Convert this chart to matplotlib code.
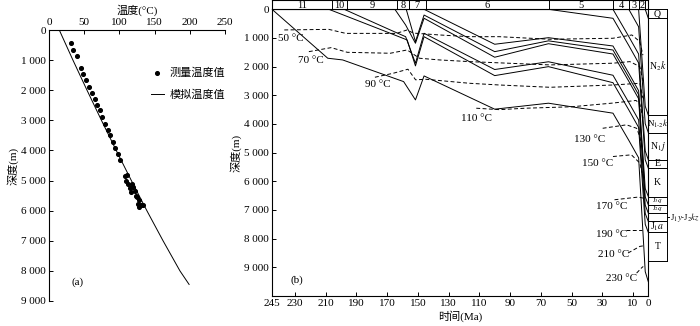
import matplotlib
matplotlib.use("Agg")
import matplotlib.pyplot as plt


plt.rcParams["font.family"] = ["Liberation Serif", "Noto Sans CJK SC", "DejaVu Sans"]
plt.rcParams["mathtext.fontset"] = "stix"
plt.rcParams["font.size"] = 8

# ---- (a) temperature vs depth ----
meas_temp = [31.3, 34.5, 39.3, 45.5, 48.7, 53.0, 57.2, 61.1, 64.9, 68.6, 72.4, 75.7,
             80.0, 83.4, 86.6, 90.5, 94.2, 97.6, 100.9,
             108.0, 111.2, 109.4, 112.6, 115.1, 117.9, 119.7, 116.5, 122.2, 123.6,
             125.4, 128.3, 126.8, 130.3, 133.9, 128.3]
meas_depth = [443, 667, 867, 1277, 1477, 1667, 1877, 2077, 2290, 2477, 2667, 2890,
              3110, 3310, 3500, 3723, 3910, 4110, 4333,
              4833, 4800, 5000, 5110, 5243, 5110, 5223, 5390, 5333, 5500,
              5557, 5643, 5777, 5800, 5810, 5890]
sim_depth = [0, 1000, 2000, 3000, 4000, 5000, 6000, 7000, 8000, 8450]
sim_temp = [14.6, 34, 54, 74.5, 95.5, 117, 139, 162, 186, 199]

temp_ticks = [0, 50, 100, 150, 200, 250]
depth_ticks = [0, 1000, 2000, 3000, 4000, 5000, 6000, 7000, 8000, 9000]
depth_labels = ["0", "1 000", "2 000", "3 000", "4 000", "5 000",
                "6 000", "7 000", "8 000", "9 000"]

# ---- (b) burial history ----
time_ticks = [245, 230, 210, 190, 170, 150, 130, 110, 90, 70, 50, 30, 10, 0]

# burial curves, one per horizon (age in Ma, depth in m)
bur_245_t = [245, 208.7, 199, 159.3, 151.6, 146, 100, 65, 23, 12.7, 6.3, 2.0, 0]
bur_245_d = [0, 1707, 1766, 2522, 3160, 2324, 3484, 3275, 3623, 4570, 5180, 9150, 9500]
bur_208_t = [208, 168, 157, 151.6, 146, 100, 65, 23, 12.7, 6.3, 2.0, 0]
bur_208_d = [0, 836, 1070, 1975, 955, 2313, 2000, 2560, 3510, 4120, 7500, 7780]
bur_198_t = [198, 168, 158, 151.6, 146, 100, 65, 23, 12.7, 6.3, 2.0, 0]
bur_198_d = [0, 720, 955, 1880, 836, 2100, 1830, 2300, 3250, 3860, 7120, 7400]
bur_165_t = [165, 158, 151.6, 146, 100, 65, 23, 12.7, 6.3, 2.0, 0]
bur_165_d = [0, 547, 1185, 313, 1672, 1200, 1560, 2510, 3120, 6830, 7110]
bur_158_t = [157.6, 151.6, 146, 100, 65, 23, 12.7, 6.3, 2.0, 0]
bur_158_d = [0, 1128, 200, 1477, 1100, 1420, 2370, 2980, 6540, 6820]
bur_146_t = [146, 100, 65, 23, 12.7, 6.3, 2.0, 0]
bur_146_d = [0, 1219, 990, 1280, 2230, 2840, 6250, 6530]
bur_65_t = [65, 23, 12.7, 6.3, 2.0, 0]
bur_65_d = [0, 314, 1264, 1874, 5250, 5540]
bur_23_t = [23, 12.7, 6.3, 2.0, 0]
bur_23_d = [0, 950, 1560, 4940, 5250]
bur_13_t = [12.7, 6.3, 2.0, 0]
bur_13_d = [0, 610, 3990, 4300]
bur_6_t = [6.3, 2.0, 0]
bur_6_d = [0, 3380, 3690]
bur_2_t = [2.0, 0]
bur_2_d = [0, 313]

# isotherms (age in Ma, depth in m)
iso_50_t = [237, 208, 197, 164, 157, 153, 136, 116.5, 97, 64, 23, 10.7, 5.5, 3.5]
iso_50_d = [720, 700, 840, 840, 720, 830, 895, 955, 955, 1045, 1010, 895, 1130, 1600]
iso_70_t = [221, 206.5, 196, 168, 157, 149, 136, 116.5, 64, 23, 12, 5.5, 3.5]
iso_70_d = [1477, 1337, 1500, 1533, 1418, 1707, 1766, 1825, 1940, 1880, 1825, 2000, 2500]
iso_90_t = [178, 166, 156.5, 151.5, 145, 116.5, 97, 64, 23, 5.5, 3.5]
iso_90_d = [2370, 2230, 2090, 2460, 2440, 2580, 2640, 2720, 2640, 2580, 3100]
iso_110_t = [112, 97, 80, 50, 23, 8, 5.5, 3.5]
iso_110_d = [3450, 3500, 3450, 3400, 3270, 3180, 3300, 3800]
iso_130_t = [29.7, 14.2, 7.6, 5.5, 4]
iso_130_d = [4150, 4030, 4150, 4440, 4800]
iso_150_t = [23, 11, 5.5, 4]
iso_150_d = [5135, 5076, 5365, 5700]
iso_170_t = [22, 6.6, 3.3]
iso_170_d = [6643, 6550, 6585]
iso_190_t = [14.2, 4.4]
iso_190_d = [7690, 7690]
iso_210_t = [13.2, 5.5, 3.3]
iso_210_d = [8500, 8270, 8250]
iso_230_t = [7.6, 4.4, 3.3]
iso_230_d = [9200, 9020, 8970]

# header: stratigraphic periods
period_edges = [245, 206, 196, 163.5, 156, 145, 64.5, 23, 12.7, 6.3, 2.0, 0]
period_labels = ["11", "10", "9", "8", "7", "6", "5", "4", "3", "2", ""]

# column on the right: present-day formation tops
col_tops = [0, 313, 3690, 4300, 5250, 5540, 6530, 6820, 7110, 7400, 7780, 8790]
col_labels = ["Q", r"N$_2k$", r"N$_{1\text{-}2}k$", r"N$_1j$", "E", "K",
              r"J$_3q$", r"J$_2q$", "", r"J$_1a$", "T"]
col_sizes = [7, 7, 6.5, 7, 7, 7, 5, 5, 7, 7, 7]


def main():
    fig = plt.figure(figsize=(7.0, 3.26), dpi=100)

    # ---------------- panel (a) ----------------
    ax1 = fig.add_axes([49 / 700, 1 - 301 / 326, 176 / 700, 271 / 326])
    ax1.scatter(meas_temp, meas_depth, s=7, color="black", zorder=3,
                label="测量温度值")
    ax1.plot(sim_temp, sim_depth, color="black", lw=0.7, label="模拟温度值")
    ax1.set_xlim(0, 250)
    ax1.set_ylim(9000, 0)
    ax1.xaxis.tick_top()
    ax1.xaxis.set_label_position("top")
    ax1.set_xticks(temp_ticks)
    ax1.set_yticks(depth_ticks, depth_labels)
    ax1.set_xlabel("温度(°C)", labelpad=3)
    ax1.set_ylabel("深度(m)", labelpad=2)
    ax1.spines["right"].set_visible(False)
    ax1.spines["bottom"].set_visible(False)
    ax1.tick_params(direction="in", length=3, width=0.7, pad=2)
    for s in ax1.spines.values():
        s.set_linewidth(0.8)
    ax1.legend(loc="upper left", bbox_to_anchor=(0.52, 0.9), frameon=False,
               handlelength=1.2, handletextpad=0.5, labelspacing=1.1,
               fontsize=8)
    ax1.text(0.13, 0.06, "(a)", transform=ax1.transAxes, fontsize=8)

    # ---------------- panel (b) ----------------
    ax2 = fig.add_axes([272 / 700, 1 - 296 / 326, 376.3 / 700, 286.7 / 326])
    curves = [(bur_245_t, bur_245_d), (bur_208_t, bur_208_d),
              (bur_198_t, bur_198_d), (bur_165_t, bur_165_d),
              (bur_158_t, bur_158_d), (bur_146_t, bur_146_d),
              (bur_65_t, bur_65_d), (bur_23_t, bur_23_d),
              (bur_13_t, bur_13_d), (bur_6_t, bur_6_d), (bur_2_t, bur_2_d)]
    for t, d in curves:
        ax2.plot(t, d, color="black", lw=0.7)

    isos = [(iso_50_t, iso_50_d), (iso_70_t, iso_70_d), (iso_90_t, iso_90_d),
            (iso_110_t, iso_110_d), (iso_130_t, iso_130_d),
            (iso_150_t, iso_150_d), (iso_170_t, iso_170_d),
            (iso_190_t, iso_190_d), (iso_210_t, iso_210_d),
            (iso_230_t, iso_230_d)]
    for t, d in isos:
        ax2.plot(t, d, color="black", lw=0.7, ls=(0, (4, 2.5)))

    # isotherm labels (x in Ma, y in m)
    iso_text = [("50 °C", 233, 1035), ("70 °C", 220, 1800), ("90 °C", 176, 2638),
                ("110 °C", 112, 3797), ("130 °C", 38.4, 4554),
                ("150 °C", 33.2, 5366), ("170 °C", 24.1, 6877),
                ("190 °C", 24.1, 7863), ("210 °C", 22.4, 8560),
                ("230 °C", 17.6, 9407)]
    for s, x, y in iso_text:
        ax2.text(x, y, s, ha="center", va="center", fontsize=8)

    ax2.set_xlim(245, 0)
    ax2.set_ylim(10000, 0)
    ax2.set_xticks(time_ticks)
    ax2.set_yticks(depth_ticks, depth_labels)
    ax2.set_xlabel("时间(Ma)", labelpad=2)
    ax2.set_ylabel("深度(m)", labelpad=2)
    ax2.tick_params(direction="in", length=3, width=0.7, pad=2)
    for s in ax2.spines.values():
        s.set_linewidth(0.8)
    ax2.text(0.05, 0.045, "(b)", transform=ax2.transAxes, fontsize=8)

    # header strip with period numbers
    axh = fig.add_axes([272 / 700, 1 - 9.3 / 326, 376.3 / 700, 9 / 326])
    axh.set_xlim(245, 0)
    axh.set_ylim(0, 1)
    axh.set_xticks([])
    axh.set_yticks([])
    for s in axh.spines.values():
        s.set_linewidth(0.8)
    for i, lab in enumerate(period_labels):
        a, b = period_edges[i], period_edges[i + 1]
        if i > 0:
            axh.axvline(a, color="black", lw=0.7)
        axh.text((a + b) / 2, 0.45, lab, ha="center", va="center", fontsize=7.5)

    # stratigraphic column
    axc = fig.add_axes([648.3 / 700, 1 - 296 / 326, 18.4 / 700, 286.7 / 326])
    axc.set_xlim(0, 1)
    axc.set_ylim(10000, 0)
    axc.axis("off")
    axc.plot([0, 0], [col_tops[0], col_tops[-1]], color="black", lw=0.7,
             clip_on=False)
    axc.plot([1, 1], [col_tops[0], col_tops[-1]], color="black", lw=0.7,
             clip_on=False)
    for y in col_tops:
        axc.plot([0, 1], [y, y], color="black", lw=0.7, clip_on=False)
    for i, lab in enumerate(col_labels):
        mid = (col_tops[i] + col_tops[i + 1]) / 2
        axc.text(0.5, mid, lab, ha="center", va="center", fontsize=col_sizes[i],
                 clip_on=False)
    mid = (col_tops[8] + col_tops[9]) / 2
    axc.plot([1, 1.15], [mid, mid], color="black", lw=0.7, clip_on=False)
    axc.text(1.2, mid, r"J$_1y$-J$_2kz$", ha="left", va="center", fontsize=6.3,
             clip_on=False)

    fig.savefig("out.png", dpi=100)


if __name__ == "__main__":
    main()
